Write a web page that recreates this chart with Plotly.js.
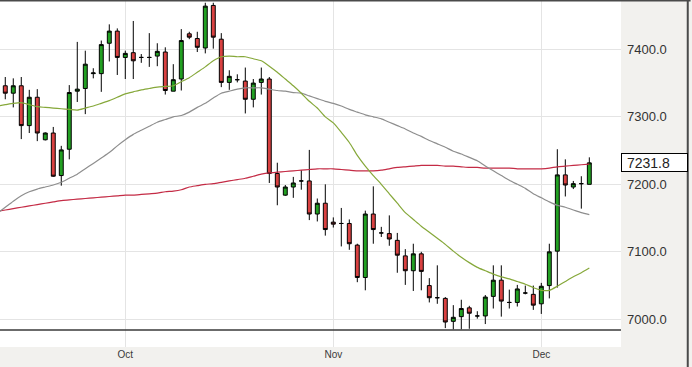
<!DOCTYPE html>
<html>
<head>
<meta charset="utf-8">
<script src="https://cdn.plot.ly/plotly-3.0.1.min.js"></script>
<style>
html,body{margin:0;padding:0;background:#f2f1ee;}
#chart{width:692px;height:367px;}
</style>
</head>
<body>
<div id="chart"></div>
<script>
// Daily candles (index 0 = first visible session)
var openP  = [7346,7335,7346,7287,7329,7266,7276,7213,7252,7338,7342,7364,7364,7409,7427,7388,7395,7388,7388,7390,
              7396,7338,7356,7423,7416,7402,7465,7415,7351,7355,7353,7326,7351,7356,7216,7184,7196,7205,7205,7156,
              7172,7144,7142,7142,7110,7062,7156,7128,7127,7117,7094,7072,7097,7050,7032,7031,6997,7004,7017,7005,
              7005,7034,7058,7025,7025,7039,7037,7023,7050,7101,7214,7196,7201,7200];
var highP  = [7359,7357,7359,7340,7341,7277,7285,7257,7347,7411,7398,7372,7413,7437,7431,7398,7442,7393,7424,7409,
              7403,7378,7430,7426,7426,7469,7469,7424,7369,7363,7373,7356,7373,7359,7232,7199,7211,7221,7251,7179,
              7200,7151,7165,7148,7112,7161,7197,7137,7154,7128,7104,7112,7100,7061,7080,7033,7021,7029,7020,7012,
              7036,7080,7080,7044,7051,7050,7050,7054,7112,7252,7237,7205,7212,7240];
var lowP   = [7326,7314,7267,7276,7264,7265,7211,7198,7237,7322,7304,7357,7337,7382,7362,7356,7356,7380,7374,7375,
              7333,7338,7339,7415,7396,7394,7401,7344,7340,7351,7305,7314,7333,7202,7169,7183,7180,7192,7147,7145,
              7124,7136,7108,7103,7055,7043,7112,7122,7109,7069,7051,7042,7043,7025,7023,6987,6985,6985,6986,7001,
              6993,7016,7004,7016,7019,7037,7014,7008,7031,7047,7182,7193,7164,7200];
var closeP = [7335,7346,7287,7329,7276,7276,7212,7251,7336,7341,7378,7365,7407,7427,7388,7394,7383,7388,7388,7397,
              7339,7355,7413,7418,7403,7464,7418,7351,7360,7355,7326,7350,7356,7216,7196,7196,7202,7205,7156,7172,
              7133,7141,7142,7112,7062,7156,7133,7128,7119,7095,7072,7097,7071,7032,7032,6996,7003,7016,7009,7005,
              7033,7058,7027,7025,7045,7039,7021,7049,7100,7214,7199,7201,7201,7231.8];

// Moving averages, starting one session before the first visible candle
var ma20  = [7316,
             7318,7320,7321,7318,7315,7314,7313,7312,7311,7310,7313,7316,7320,7324,7329,7334,7337,7340,7342,7344,
             7345,7346,7352,7358,7366,7374,7383,7389,7390,7389,7389,7386,7383,7375,7366,7356,7346,7335,7323,7313,
             7300,7291,7277,7262,7243,7227,7213,7200,7186,7172,7158,7148,7138,7129,7120,7111,7101,7092,7084,7077,
             7072,7067,7063,7060,7056,7052,7047,7043,7043,7049,7056,7063,7069,7076];
var ma50  = [7157,
             7166,7175,7183,7189,7193,7196,7199,7203,7209,7215,7223,7231,7239,7247,7257,7266,7274,7280,7286,7292,
             7296,7300,7302,7307,7314,7320,7328,7335,7338,7341,7343,7343,7343,7341,7339,7338,7336,7335,7331,7327,
             7323,7320,7316,7311,7307,7303,7300,7297,7292,7287,7282,7276,7271,7265,7260,7255,7249,7245,7240,7235,
             7227,7220,7213,7206,7200,7194,7186,7180,7174,7169,7166,7162,7158,7155];
var ma200 = [7160,
             7162,7164,7166,7168,7170,7172,7174,7176,7177,7178,7179,7180,7181,7182,7183,7184,7184,7185,7186,7187,
             7189,7190,7192,7196,7198,7200,7201,7203,7205,7207,7209,7212,7215,7217,7218,7219,7220,7221,7222,7223,
             7223,7223,7222,7221,7220,7220,7220,7221,7223,7225,7226,7227,7228,7228,7228,7227,7227,7226,7225,7225,
             7224,7224,7224,7224,7223,7223,7223,7223,7224,7226,7227,7228,7229,7230];

// Month labels and the session index where each month starts
var monthLabels = ['Oct','Nov','Dec'];
var monthIndex  = [15, 41, 67];
var lastPrice = 7231.8;

var idx = openP.map(function(_, i){ return i; });
var maIdx = ma20.map(function(_, i){ return i - 1; });

var traces = [
  {
    type:'candlestick', x: idx, open: openP, high: highP, low: lowP, close: closeP,
    increasing:{line:{color:'#000000', width:1}, fillcolor:'#22a022'},
    decreasing:{line:{color:'#000000', width:1}, fillcolor:'#d94141'},
    hoverinfo:'skip', showlegend:false
  },
  {type:'scatter', mode:'lines', x: maIdx, y: ma200, line:{color:'#c42b45', width:1.2, shape:'spline', smoothing:0.6}, hoverinfo:'skip', showlegend:false},
  {type:'scatter', mode:'lines', x: maIdx, y: ma50,  line:{color:'#8e8e8e', width:1.2, shape:'spline', smoothing:0.6}, hoverinfo:'skip', showlegend:false},
  {type:'scatter', mode:'lines', x: maIdx, y: ma20,  line:{color:'#86a83a', width:1.2, shape:'spline', smoothing:0.6}, hoverinfo:'skip', showlegend:false}
];

var layout = {
  width:692, height:367,
  margin:{l:0, r:71, t:1, b:20, pad:0},
  paper_bgcolor:'#f2f1ee',
  plot_bgcolor:'#ffffff',
  showlegend:false,
  font:{family:'"Liberation Sans", Arial, sans-serif', color:'#333333'},
  xaxis:{
    range:[-0.66, 76.96],
    tickvals: monthIndex, ticktext: monthLabels,
    showgrid:true, gridcolor:'#e4e4e4', gridwidth:1,
    zeroline:false, showline:false, ticks:'',
    tickfont:{size:10, color:'#3a3a3a'},
    rangeslider:{visible:false},
    fixedrange:true
  },
  yaxis:{
    side:'right',
    range:[6959, 7471.6],
    dtick:100, tick0:7000, tickformat:'.1f',
    showgrid:true, gridcolor:'#e4e4e4', gridwidth:1,
    zeroline:false, showline:false, ticks:'',
    ticklabelstandoff:5,
    tickfont:{size:13, color:'#333333'},
    fixedrange:true
  },
  shapes:[
    {type:'line', xref:'paper', yref:'paper', x0:0, x1:1, y0:0.049, y1:0.049, line:{color:'#3a3a3a', width:1.5}},
    {type:'line', xref:'paper', yref:'paper', x0:0, x1:1.112, y0:1.0015, y1:1.0015, line:{color:'#4a4a4a', width:2}},
    {type:'line', xref:'paper', yref:'paper', x0:1.1075, x1:1.1075, y0:-0.06, y1:1.003, line:{color:'#4a4a4a', width:2}}
  ],
  annotations:[
    {xref:'paper', yref:'y', x:1, y:lastPrice, xanchor:'left', yanchor:'middle',
     text:' ' + lastPrice.toFixed(1), showarrow:false, align:'left',
     width:63, height:15, borderpad:1, borderwidth:1, bordercolor:'#000000', bgcolor:'#ffffff',
     font:{size:14, color:'#222222'}}
  ]
};

Plotly.newPlot('chart', traces, layout, {displayModeBar:false, staticPlot:true});
</script>
</body>
</html>
